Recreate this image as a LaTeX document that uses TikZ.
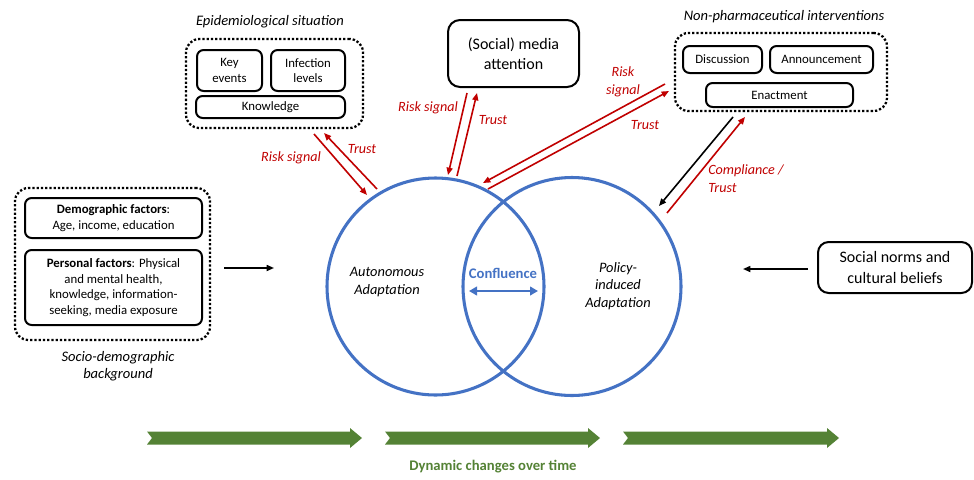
\documentclass[tikz,border=0pt]{standalone}
\usepackage{fontspec}
\setmainfont{Carlito}
\usetikzlibrary{arrows.meta,calc}
\definecolor{cred}{RGB}{192,0,0}
\definecolor{cblue}{RGB}{68,114,196}
\definecolor{cgreen}{RGB}{84,130,53}
\begin{document}
\begin{tikzpicture}[x=0.75pt,y=-0.75pt,
  sz/.style 2 args={minimum width=#1*0.75pt, minimum height=#2*0.75pt},
  box/.style={draw, line width=1.5pt, rounded corners=5pt, inner sep=0pt, align=center},
  dotbox/.style={draw, line width=1.7pt, dash pattern=on 1.7pt off 1.5pt, rounded corners=10pt, inner sep=0pt},
  title/.style={font=\fontsize{10.9}{12.75}\selectfont\itshape, align=center, inner sep=0pt},
  small/.style={font=\fontsize{9.6}{11.6}\selectfont},
  big/.style={font=\fontsize{12}{15.4}\selectfont},
  clab/.style={font=\fontsize{10.8}{13.3}\selectfont\itshape, align=center, inner sep=0pt},
  rlab/.style={text=cred, font=\fontsize{10.6}{13.5}\selectfont\itshape, inner sep=0pt, align=center},
  rarr/.style={draw=cred, line width=1.2pt, -{Triangle[length=5.5pt,width=4.5pt]}},
  karr/.style={draw=black, line width=1.2pt, -{Triangle[length=5.5pt,width=4.5pt]}},
  venn/.style={circle, draw=cblue, line width=2.3pt, inner sep=0pt},
  garrow/.style={fill=cgreen, draw=none}
]
\useasboundingbox (0,0) rectangle (974,479);

% Epidemiological situation
\node[title] (epititle) at (270,22) {Epidemiological situation};
\node[dotbox, sz={177}{89}] (epi) at (274.5,83.5) {};
\node[box, small, sz={65}{41}] (key) at (229.5,70.5) {Key\\events};
\node[box, small, sz={74}{41}] (inf) at (308,70.5) {Infection\\levels};
\node[box, small, sz={149}{22}] (know) at (270.5,107) {Knowledge};

% media
\node[box, big, sz={131}{67}, rounded corners=9pt] (media) at (513.5,53.5) {(Social) media\\attention};

% NPI
\node[title] (npititle) at (784,17) {Non-pharmaceutical interventions};
\node[dotbox, sz={212}{78}] (npi) at (781,72) {};
\node[box, small, sz={79}{27}] (disc) at (722.5,59.5) {Discussion};
\node[box, small, sz={103}{27}] (ann) at (821.5,59.5) {Announcement};
\node[box, small, sz={147}{24}] (enact) at (779.5,95) {Enactment};

% socio-demographic
\node[dotbox, sz={195}{152}] (soc) at (112.5,264) {};
\node[box, small, sz={177}{40}] (demo) at (113.5,218) {\textbf{Demographic factors}:\\Age, income, education};
\node[box, small, sz={177}{75}] (pers) at (113.5,287.5) {\textbf{Personal factors}: Physical\\and mental health,\\knowledge, information-\\seeking, media exposure};
\node[title] (soctitle) at (118,366.5) {Socio-demographic\\background};

% social norms
\node[box, big, sz={154}{51}, rounded corners=8pt] (norms) at (895,267.5) {Social norms and\\cultural beliefs};

% circles
\node[venn, minimum size=217*0.75pt] (c1) at (435.5,286.5) {};
\node[venn, minimum size=218*0.75pt] (c2) at (572,286.5) {};
\node[clab] (auto) at (387,282) {Autonomous\\Adaptation};
\node[clab] (policy) at (618,286) {Policy-\\induced\\Adaptation};
\node[text=cblue, font=\fontsize{11}{13}\selectfont\bfseries, inner sep=0pt] (conf) at (503,273) {Confluence};
\coordinate (cfL) at (469,291);
\coordinate (cfR) at (538,291);
\draw[cblue, line width=1.8pt, {Triangle[length=6pt,width=6.5pt]}-{Triangle[length=6pt,width=6.5pt]}] (cfL) -- (cfR);

% black side arrows
\coordinate (la1) at (224,268);
\coordinate (la2) at (274,268);
\draw[karr] (la1) -- (la2);
\coordinate (ra1) at (808,269);
\coordinate (ra2) at (743,269);
\draw[karr] (ra1) -- (ra2);

% epi <-> c1
\coordinate (e1a) at (314,134); \coordinate (e1b) at (367,195);
\coordinate (e2a) at (377,189); \coordinate (e2b) at (324,133);
\draw[rarr] (e1a) -- (e1b);
\draw[rarr] (e2a) -- (e2b);
\node[rlab] (rs1) at (291,158) {Risk signal};
\node[rlab] (tr1) at (362,149) {Trust};

% media <-> c1
\coordinate (m1a) at (467,93); \coordinate (m1b) at (448,175);
\coordinate (m2a) at (457,176); \coordinate (m2b) at (477,93);
\draw[rarr] (m1a) -- (m1b);
\draw[rarr] (m2a) -- (m2b);
\node[rlab] (rs2) at (428,108) {Risk signal};
\node[rlab] (tr2) at (493,120) {Trust};

% npi <-> c1
\coordinate (n1a) at (665,84); \coordinate (n1b) at (483,183);
\coordinate (n2a) at (488,189); \coordinate (n2b) at (669,91);
\draw[rarr] (n1a) -- (n1b);
\draw[rarr] (n2a) -- (n2b);
\node[rlab] (rs3) at (623,82) {Risk\\signal};
\node[rlab] (tr3) at (645,125) {Trust};

% npi <-> c2
\coordinate (p1a) at (733,117); \coordinate (p1b) at (659,206);
\coordinate (p2a) at (667,213); \coordinate (p2b) at (745,117);
\draw[karr] (p1a) -- (p1b);
\draw[rarr] (p2a) -- (p2b);
\node[rlab, anchor=west, align=left] (comp) at (708,179) {Compliance /\\Trust};

% green time arrows
\foreach \s/\e in {147/362, 385/600, 623/839}{
  \fill[garrow] (\s,431.5) -- (\e-12,431.5) -- (\e-12,428) -- (\e,438) -- (\e-12,448) -- (\e-12,444.5) -- (\s,444.5) -- (\s+5,438) -- cycle;
}
\node[text=cgreen, font=\fontsize{11}{13}\selectfont\bfseries, inner sep=0pt] (dyn) at (493,467) {Dynamic changes over time};
\end{tikzpicture}
\end{document}
